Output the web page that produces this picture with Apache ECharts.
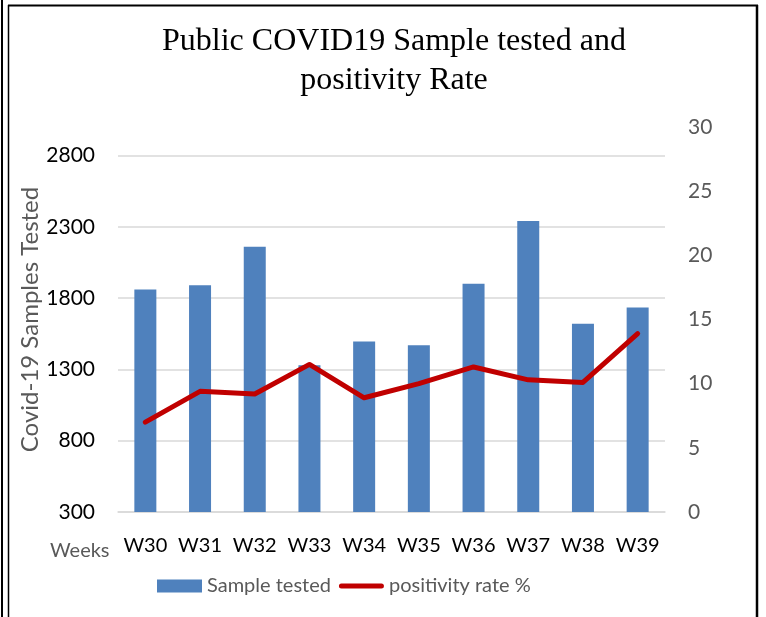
<!DOCTYPE html>
<html>
<head>
<meta charset="utf-8">
<script src="https://cdn.jsdelivr.net/npm/echarts@6/dist/echarts.min.js"></script>
<style>
html,body{margin:0;padding:0;background:#fff;}
#chart{width:766px;height:617px;}
</style>
</head>
<body>
<div id="chart"></div>
<script>
var weeks = ['W30','W31','W32','W33','W34','W35','W36','W37','W38','W39'];
var samplesTested = [1860, 1890, 2160, 1330, 1495, 1470, 1900, 2340, 1620, 1735];
var positivityRate = [7.0, 9.4, 9.2, 11.5, 8.9, 10.0, 11.3, 10.3, 10.1, 13.9];
var leftTicks = {min: 300, max: 3000, interval: 500};
var rightTicks = {min: 0, max: 30, interval: 5};

var chart = echarts.init(document.getElementById('chart'), null, {renderer: 'canvas'});
var sans = 'Lato';
chart.setOption({
  backgroundColor: '#ffffff',
  animation: false,
  title: {
    text: 'Public COVID19 Sample tested and\npositivity Rate',
    left: 389, textAlign: 'center', top: 17,
    textStyle: {fontFamily: 'Liberation Serif', fontWeight: 'normal', fontSize: 32, color: '#000', lineHeight: 39}
  },
  grid: {left: 118, right: 101, top: 127, bottom: 105},
  legend: {
    left: 152, top: 571, itemWidth: 45, itemHeight: 13, itemGap: 8,
    textStyle: {color: '#595959', fontSize: 20, fontFamily: sans},
    data: [
      {name: 'Sample tested', icon: 'rect'},
      {name: 'positivity rate %', icon: 'path://M2.5,0 L42.5,0 A2.5,2.5 0 0 1 42.5,5 L2.5,5 A2.5,2.5 0 0 1 2.5,0 Z'}
    ]
  },
  xAxis: {
    type: 'category', data: weeks,
    axisLine: {lineStyle: {color: '#d9d9d9', width: 1.5}},
    axisTick: {show: false},
    axisLabel: {color: '#000', fontSize: 20, fontFamily: sans, margin: 24, interval: 0}
  },
  yAxis: [
    {
      type: 'value', min: leftTicks.min, max: leftTicks.max, interval: leftTicks.interval,
      name: 'Covid-19 Samples Tested', nameLocation: 'middle', nameGap: 76, nameMoveOverlap: false,
      nameTextStyle: {color: '#595959', fontSize: 24, fontFamily: sans},
      axisLine: {show: false}, axisTick: {show: false},
      axisLabel: {color: '#000', fontSize: 21, fontFamily: sans, margin: 23, showMaxLabel: false,
                  formatter: function (v) { return String(v); }},
      splitLine: {show: true, showMaxLine: false, lineStyle: {color: '#d9d9d9', width: 1.5}}
    },
    {
      type: 'value', min: rightTicks.min, max: rightTicks.max, interval: rightTicks.interval,
      position: 'right',
      axisLine: {show: false}, axisTick: {show: false},
      axisLabel: {color: '#595959', fontSize: 21, fontFamily: sans, margin: 23},
      splitLine: {show: false}
    }
  ],
  series: [
    {
      name: 'Sample tested', type: 'bar', data: samplesTested, yAxisIndex: 0,
      barWidth: 22, itemStyle: {color: '#4f81bd'}
    },
    {
      name: 'positivity rate %', type: 'line', data: positivityRate, yAxisIndex: 1,
      symbol: 'none', lineStyle: {color: '#c00000', width: 5, cap: 'round', join: 'round'},
      itemStyle: {color: '#c00000'}
    }
  ],
  graphic: [
    {type: 'text', left: 50, top: 541, style: {text: 'Weeks', fill: '#595959', font: '20px Lato'}},
    {type: 'line', shape: {x1: 2, y1: 0, x2: 2, y2: 617}, style: {stroke: '#000', lineWidth: 2}},
    {type: 'line', shape: {x1: 8.5, y1: 5, x2: 8.5, y2: 617}, style: {stroke: '#000', lineWidth: 1.5}},
    {type: 'line', shape: {x1: 8, y1: 5.5, x2: 758, y2: 5.5}, style: {stroke: '#000', lineWidth: 2}},
    {type: 'line', shape: {x1: 757, y1: 5, x2: 757, y2: 617}, style: {stroke: '#000', lineWidth: 2.5}}
  ]
});
</script>
</body>
</html>
